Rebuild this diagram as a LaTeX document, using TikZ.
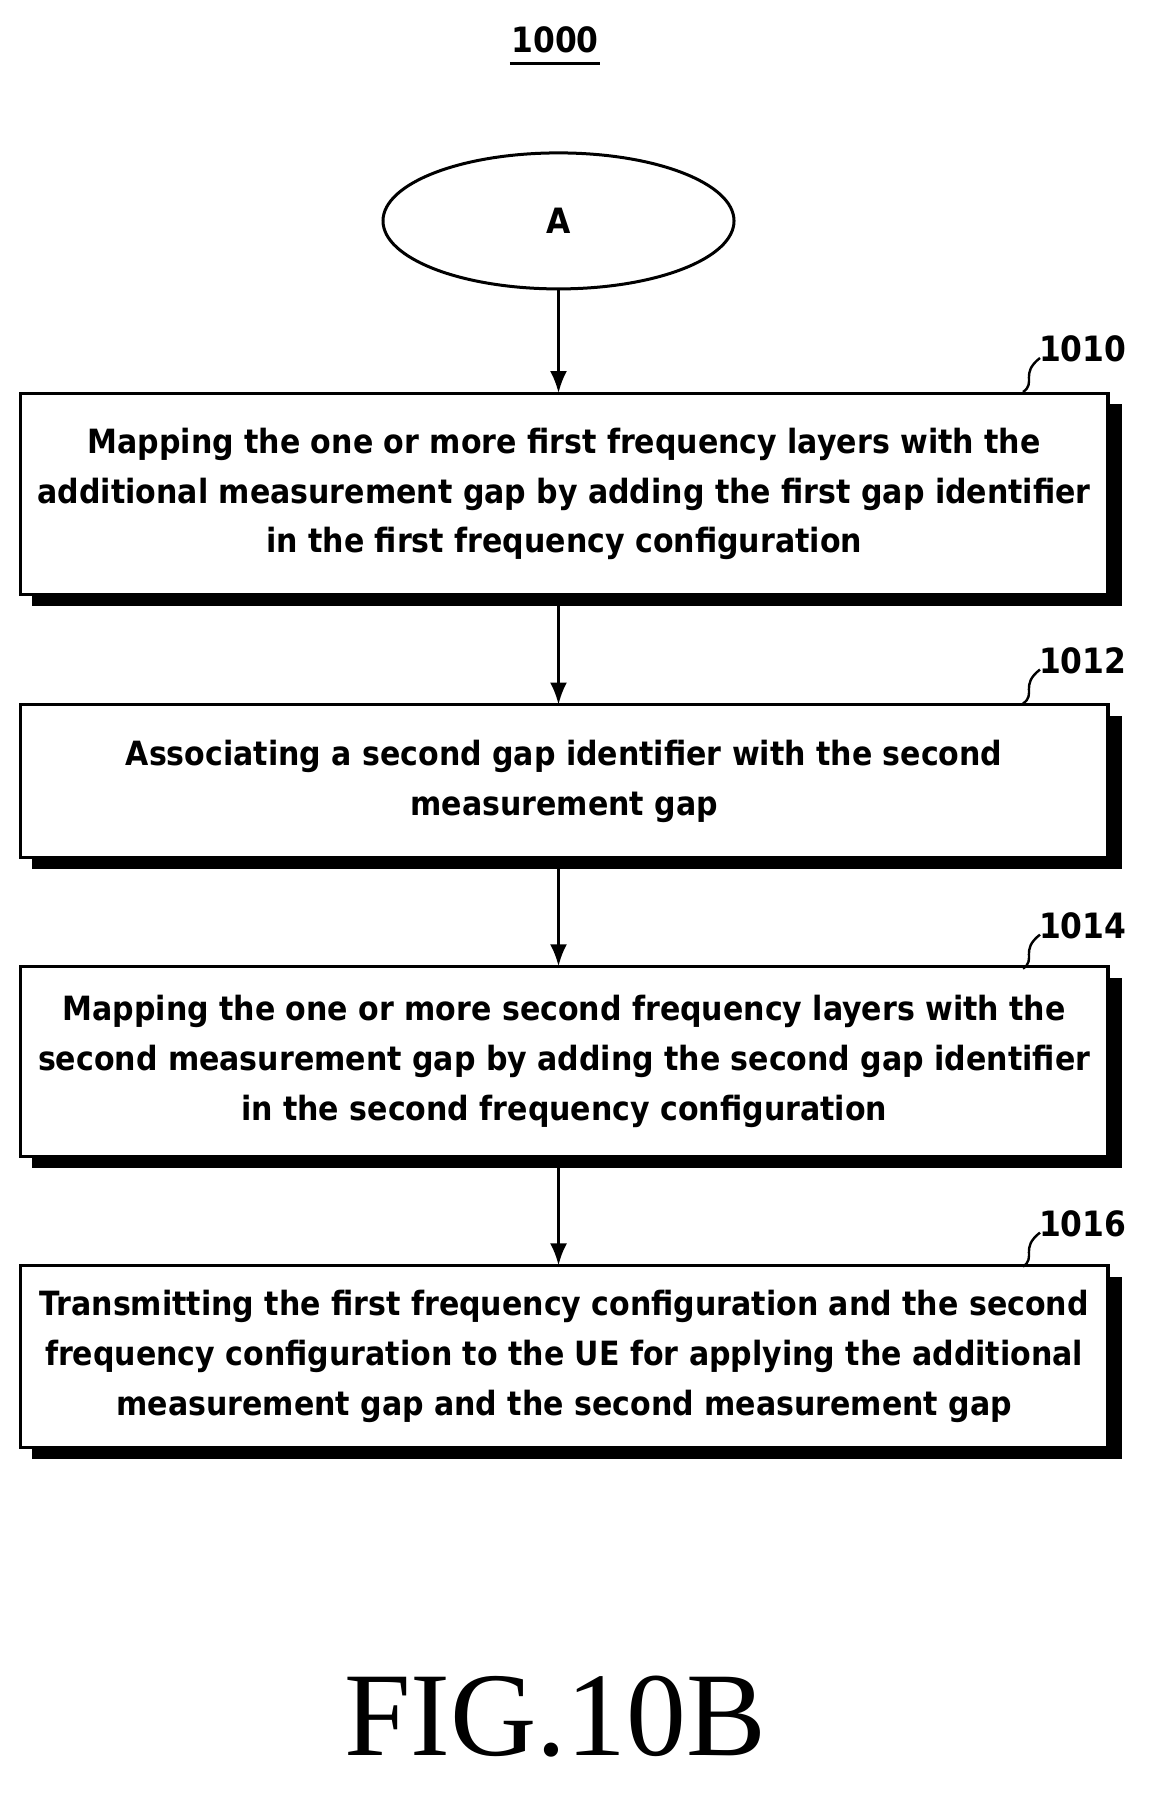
\documentclass[tikz,border=0pt]{standalone}
\usepackage{fontspec}
\usetikzlibrary{arrows.meta,shapes.geometric}
\setmainfont{DejaVu Sans Condensed}
\newfontfamily\figfont{Liberation Serif}
\begin{document}
\begin{tikzpicture}[x=1.1328bp,y=-1.1328bp,
  stepbox/.style={align=center,font=\bfseries\fontsize{33.5}{50}\selectfont,inner sep=0},
  arr/.style={-{Latex[length=22bp,width=17bp]},line width=3bp},
  lbl/.style={font=\bfseries\fontsize{35}{35}\selectfont,anchor=west,inner sep=0}]
\useasboundingbox (0,0) rectangle (1024,1588);
\node[font=\bfseries\fontsize{35}{35}\selectfont,inner sep=2bp] (t) at (490,35) {1000};
\draw[line width=2.5bp] (450,56) -- (530,56);
\node[draw,ellipse,line width=3bp,minimum width=351bp,minimum height=136bp,font=\bfseries\fontsize{35}{35}\selectfont] (a) at (493,195) {A};
\def\bx#1#2#3#4{%
  \fill (28,#2+10) rectangle (990,#3+10);
  \draw[line width=3.2bp,fill=white] (18,#2) rectangle (978,#3);
  \node[stepbox] (#1) at (498,{(#2+#3)/2}) {#4};
  \coordinate (#1t) at (493,#2);
  \coordinate (#1b) at (493,#3);}
\bx{b1}{347}{525}{Mapping the one or more first frequency layers with the\\additional measurement gap by adding the first gap identifier\\in the first frequency configuration}
\bx{b2}{622}{757}{Associating a second gap identifier with the second\\measurement gap}
\bx{b3}{853}{1021}{Mapping the one or more second frequency layers with the\\second measurement gap by adding the second gap identifier\\in the second frequency configuration}
\bx{b4}{1117}{1278}{Transmitting the first frequency configuration and the second\\frequency configuration to the UE for applying the additional\\measurement gap and the second measurement gap}
\coordinate (s1) at (493,535);
\coordinate (s2) at (493,767);
\coordinate (s3) at (493,1031);
\draw[arr] (a.south) -- (b1t);
\draw[arr] (s1) -- (b2t);
\draw[arr] (s2) -- (b3t);
\draw[arr] (s3) -- (b4t);
\foreach \n/\y in {1010/308,1012/583,1014/817,1016/1080}{
  \node[lbl] (l\n) at (917,\y) {\n};
  \draw[line width=2.4bp] (903,\y+38) .. controls (915,\y+30) and (900,\y+22) .. (918,\y+8);
}
\node[font=\figfont\fontsize{120}{120}\selectfont] (fig) at (490,1515) {FIG.10B};
\end{tikzpicture}
\end{document}
